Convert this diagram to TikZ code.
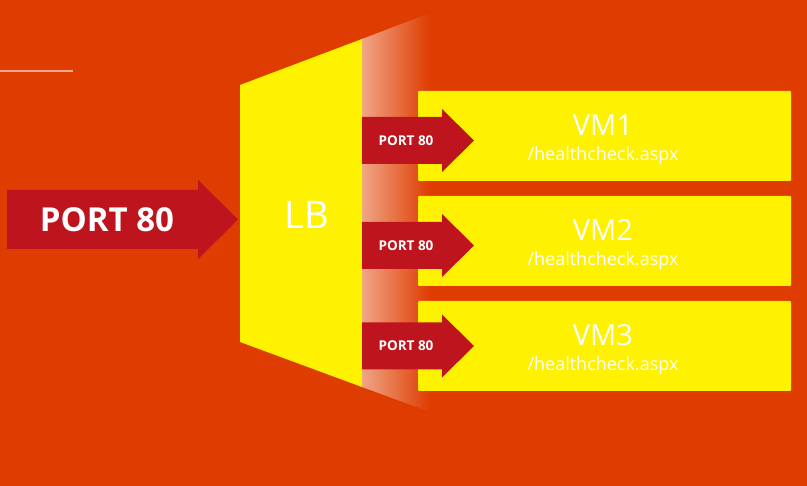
\documentclass[tikz,border=0pt]{standalone}
\usepackage{fontspec}
\setmainfont{Open Sans}
\usepackage{tikz}
\usetikzlibrary{positioning, calc}

\definecolor{bgorange}{HTML}{DE3C00}
\definecolor{lbyellow}{HTML}{FFF200}
\definecolor{portred}{HTML}{BE141E}
\definecolor{fadesalmon}{HTML}{F0A587}

\begin{document}
\begin{tikzpicture}[x=1pt, y=-1pt,
    vmbox/.style={fill=lbyellow, rounded corners=1pt},
    portarr/.style={fill=portred},
    vmname/.style={text=white, font=\fontsize{29}{29}\selectfont, anchor=base},
    vmpath/.style={text=white, font=\fontsize{18}{18}\selectfont, anchor=base},
    porttxt/.style={text=white, font=\bfseries\fontsize{13.5}{13.5}\selectfont},
    bigport/.style={text=white, font=\bfseries\fontsize{33}{33}\selectfont}
]
    \fill[bgorange] (0,0) rectangle (807,486);
    \useasboundingbox (0,0) rectangle (807,486);
    \draw[white!55!bgorange, line width=1.5pt] (0,71) -- (73,71);

    % fade strip behind the balancer
    \shade[left color=fadesalmon, middle color=fadesalmon!74!bgorange, right color=bgorange]
        (362,39) -- (430,13) -- (430,412) -- (362,387) -- cycle;

    % load balancer
    \fill[lbyellow] (240,85) -- (362,39) -- (362,387) -- (240,342) -- cycle;
    \node[text=white, font=\fontsize{38}{38}\selectfont] (lb) at (307,214.5) {LB};

    % incoming port
    \fill[portred] (7,190) -- (198,190) -- (198,180) -- (238,219.5) -- (198,259) -- (198,249) -- (7,249) -- cycle;
    \node[bigport] (inport) at (107,220) {PORT 80};

    % backend VMs
    \foreach \vm/\vmtop/\armid in {1/91/140.5, 2/196/245.5, 3/301/346} {
        \fill[vmbox] (418,\vmtop) rectangle (791,\vmtop+90);
        \fill[portarr] (362,\armid-23.5) -- (442,\armid-23.5) -- (442,\armid-31.5) -- (474,\armid)
            -- (442,\armid+31.5) -- (442,\armid+23.5) -- (362,\armid+23.5) -- cycle;
        \node[porttxt] (port\vm) at (406,\armid) {PORT 80};
        \node[vmname] (vm\vm) at (603,\vmtop+45) {VM\vm};
        \node[vmpath] (hc\vm) at (603,\vmtop+70) {/healthcheck.aspx};
    }
\end{tikzpicture}
\end{document}
